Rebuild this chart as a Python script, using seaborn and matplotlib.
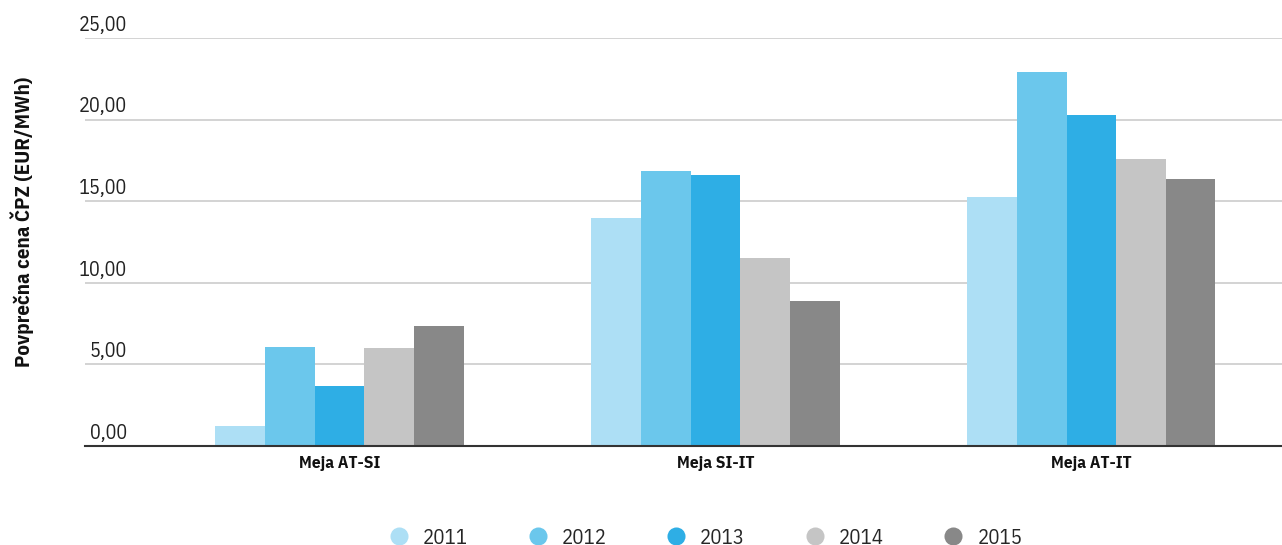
import matplotlib
matplotlib.use("Agg")
import matplotlib.pyplot as plt
import matplotlib.transforms as mtransforms
from matplotlib.lines import Line2D
import seaborn as sns
import pandas as pd

categories = ["Meja AT-SI", "Meja SI-IT", "Meja AT-IT"]
years = ["2011", "2012", "2013", "2014", "2015"]
v2011 = [1.23, 13.97, 15.26]
v2012 = [6.07, 16.85, 22.92]
v2013 = [3.68, 16.60, 20.28]
v2014 = [6.00, 11.52, 17.59]
v2015 = [7.35, 8.88, 16.36]
yticks = [0, 5, 10, 15, 20, 25]
ytick_labels = ["0,00", "5,00", "10,00", "15,00", "20,00", "25,00"]
ylabel = "Povprečna cena ČPZ (EUR/MWh)"
colors = ["#ADDFF5", "#6BC7EC", "#2EAEE5", "#C5C5C5", "#888888"]

series = [v2011, v2012, v2013, v2014, v2015]
rows = []
for y, vals in zip(years, series):
    for c, v in zip(categories, vals):
        rows.append({"cat": c, "year": y, "val": v})
df = pd.DataFrame(rows)

sns.set_theme(style="white")
plt.rcParams["font.family"] = ["IBM Plex Sans Condensed", "DejaVu Sans"]

fig = plt.figure(figsize=(12.82, 5.45), dpi=100)
ax = fig.add_axes([85 / 1282, 1 - 446 / 545, 1 - 85 / 1282, (446 - 38) / 545])

sns.barplot(data=df, x="cat", y="val", hue="year", palette=colors, width=0.66,
            saturation=1, ax=ax, legend=False, edgecolor="none", linewidth=0)

ax.set_ylim(0, 25)
ax.set_xlim(-0.677, 2.507)
ax.set_yticks(yticks)
ax.set_yticklabels([])
ax.tick_params(axis="y", length=0)
ax.yaxis.grid(True, color="#cccccc", linewidth=1.2)
ax.set_axisbelow(True)
for s in ["top", "right", "left"]:
    ax.spines[s].set_visible(False)
ax.spines["bottom"].set_color("#333333")
ax.spines["bottom"].set_linewidth(1.5)

trans = mtransforms.blended_transform_factory(fig.transFigure, ax.transData)
for t, lab in zip(yticks, ytick_labels):
    ax.text(127 / 1282, t + 0.2, lab, transform=trans, ha="right", va="bottom",
            fontsize=14.5, color="#222222", clip_on=False)

ax.set_xlabel("")
ax.tick_params(axis="x", length=0, pad=7)
for lab in ax.get_xticklabels():
    lab.set_fontweight("bold")
    lab.set_fontsize(12.5)
    lab.set_color("#111111")

ax.set_ylabel("")
fig.text(22 / 1282, 1 - 222 / 545, ylabel, rotation=90, ha="center", va="center",
         fontsize=15, fontweight="bold", color="#111111")

handles = [Line2D([0], [0], marker="o", linestyle="none", markersize=13,
                  markerfacecolor=c, markeredgecolor="none") for c in colors]
fig.legend(handles, years, loc="center", bbox_to_anchor=(706.5 / 1282, 1 - 538 / 545), ncol=5,
           frameon=False, fontsize=15, columnspacing=2.94, handletextpad=0.75,
           handlelength=0.8, borderpad=0, borderaxespad=0)

fig.savefig("out.png", dpi=100)
